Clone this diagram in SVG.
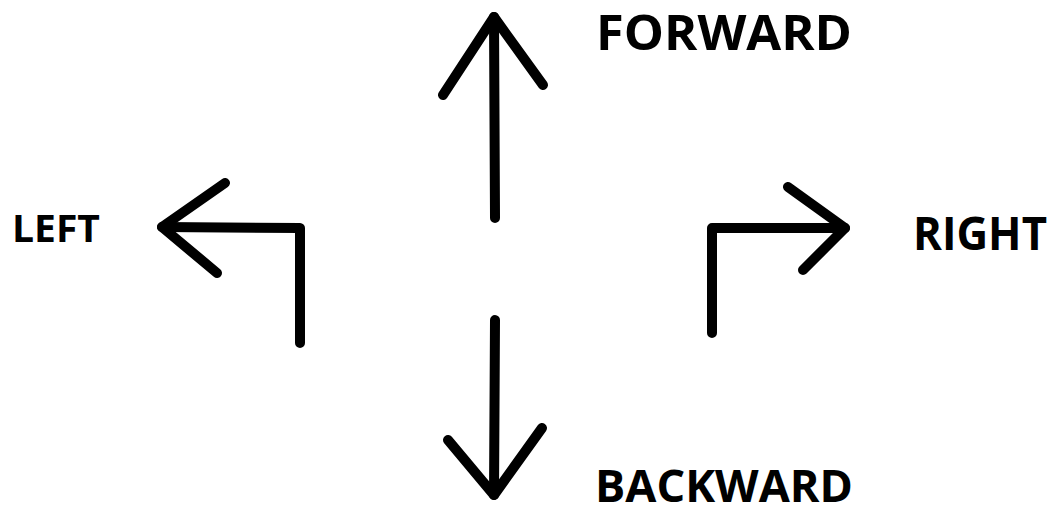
<svg xmlns="http://www.w3.org/2000/svg" width="1054" height="506" viewBox="0 0 1054 506">
<style>
.a{fill:none;stroke:#000;stroke-width:10;stroke-linecap:round;stroke-linejoin:round}
.t{font-family:"Open Sans","Liberation Sans",sans-serif;font-weight:bold;fill:#000}
</style>
<rect width="1054" height="506" fill="#fff"/>
<g id="connectors">
<g id="forward-arrow">
<path class="a" d="M495 218 L494 17"/>
<path class="a" d="M443 95 L494 17 L543 85"/>
</g>
<g id="backward-arrow">
<path class="a" d="M495 320 L494 495"/>
<path class="a" d="M448 440 L494 495 L542 428"/>
</g>
<g id="left-arrow">
<path class="a" d="M300 343 L300 228 L162 227"/>
<path class="a" d="M225 183 L162 227 L217 273"/>
</g>
<g id="right-arrow">
<path class="a" d="M712 333 L712 228 L845 228"/>
<path class="a" d="M788 187 L845 228 L803 270"/>
</g>
</g>
<g id="forward"><text class="t" x="596" y="50" font-size="49" textLength="256" lengthAdjust="spacingAndGlyphs">FORWARD</text></g>
<g id="backward"><text class="t" x="595" y="502" font-size="45" textLength="258" lengthAdjust="spacingAndGlyphs">BACKWARD</text></g>
<g id="left"><text class="t" x="12" y="242" font-size="38" textLength="88" lengthAdjust="spacingAndGlyphs">LEFT</text></g>
<g id="right"><text class="t" x="913" y="250" font-size="46" textLength="134" lengthAdjust="spacingAndGlyphs">RIGHT</text></g>
</svg>
